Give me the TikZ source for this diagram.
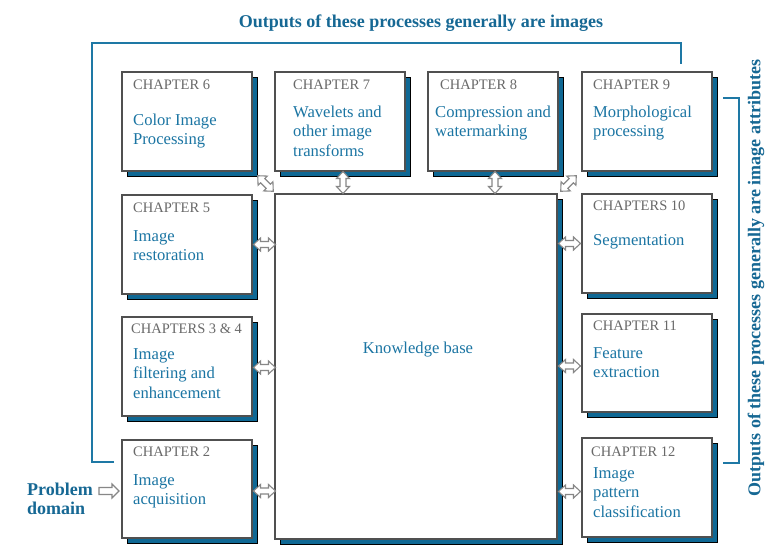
\documentclass[tikz,border=0pt]{standalone}
\usepackage{fontspec}
\setmainfont{Liberation Serif}
\usetikzlibrary{calc,shadows}
\definecolor{tblue}{RGB}{27,117,163}
\definecolor{titleblue}{RGB}{22,104,148}
\definecolor{lineblue}{RGB}{30,120,165}
\definecolor{shblue}{RGB}{15,104,148}
\definecolor{chapgray}{RGB}{105,105,105}
\definecolor{boxgray}{RGB}{80,80,80}
\definecolor{arrgray}{RGB}{135,135,135}
\newcommand\vlines[1]{\vtop{\halign{##\hfil\cr#1\crcr}}}
\tikzset{
  box/.style={draw=boxgray, line width=1.3pt, fill=white, anchor=north west,
    minimum width=130pt, minimum height=99pt, inner sep=0pt, outer sep=0pt,
    general shadow={fill=shblue, draw=black, line width=0.6pt, shadow xshift=5pt, shadow yshift=-5pt}},
  chap/.style={anchor=base west, inner sep=0pt, text=chapgray, font=\fontsize{14.5}{14.5}\selectfont},
  body/.style={anchor=base west, inner sep=0pt, text=tblue, font=\fontsize{16.6}{19.5}\selectfont},
  title/.style={inner sep=0pt, text=titleblue, font=\fontsize{18}{19}\selectfont\bfseries},
  bracket/.style={draw=lineblue, line width=2pt},
  arrowline/.style={draw=arrgray, fill=white, line width=1.1pt, line join=miter},
  darr/.pic={\draw[arrowline] (-11,0) -- (-4,-6.5) -- (-4,-3) -- (4,-3) -- (4,-6.5) -- (11,0)
      -- (4,6.5) -- (4,3) -- (-4,3) -- (-4,6.5) -- cycle;},
  sarr/.pic={\draw[arrowline] (-10,-3.5) -- (3,-3.5) -- (3,-7) -- (10,0) -- (3,7) -- (3,3.5) -- (-10,3.5) -- cycle;}
}
\begin{document}
\begin{tikzpicture}[x=1pt,y=-1pt]
\useasboundingbox (0,0) rectangle (778,549);
\fill[white] (0,0) rectangle (778,549);

% brackets
\coordinate (bl1) at (114,462);
\coordinate (bl2) at (92,462);
\coordinate (bl3) at (92,43);
\coordinate (bl4) at (681,43);
\coordinate (bl5) at (681,64);
\draw[bracket] (bl1) -- (bl2) -- (bl3) -- (bl4) -- (bl5);
\coordinate (br1) at (723,98);
\coordinate (br2) at (739,98);
\coordinate (br3) at (739,463);
\coordinate (br4) at (723,463);
\draw[bracket] (br1) -- (br2) -- (br3) -- (br4);

% titles
\node[title] (t1) at (421,23) {Outputs of these processes generally are images};
\node[title, rotate=90] (t2) at (756,278) {Outputs of these processes generally are image attributes};

% boxes
\node[box] (c6) at (122,72) {};
\node[box] (c7) at (275,72) {};
\node[box] (c8) at (428,72) {};
\node[box] (c9) at (582,72) {};
\node[box] (c5) at (122,195) {};
\node[box] (c34) at (122,317) {};
\node[box, minimum height=98pt] (c2) at (122,440) {};
\node[box] (c10) at (582,194) {};
\node[box, minimum height=98pt] (c11) at (582,314) {};
\node[box] (c12) at (582,438) {};
\node[box, minimum width=282pt, minimum height=345pt] (kb) at (275,194) {};

% texts
\node[chap] (c6h) at (133,89) {CHAPTER 6};
\node[body] (c6b) at (133,125) {\vlines{Color Image\cr Processing}};
\node[chap] (c7h) at (293,89) {CHAPTER 7};
\node[body] (c7b) at (293,117) {\vlines{Wavelets and\cr other image\cr transforms}};
\node[chap] (c8h) at (440,89) {CHAPTER 8};
\node[body] (c8b) at (435,117) {\vlines{Compression and\cr watermarking}};
\node[chap] (c9h) at (593,89) {CHAPTER 9};
\node[body] (c9b) at (593,117) {\vlines{Morphological\cr processing}};
\node[chap] (c5h) at (133,212) {CHAPTER 5};
\node[body] (c5b) at (133,241) {\vlines{Image\cr restoration}};
\node[chap] (c34h) at (131,333) {CHAPTERS 3 \& 4};
\node[body] (c34b) at (133,359) {\vlines{Image\cr filtering and\cr enhancement}};
\node[chap] (c2h) at (133,456) {CHAPTER 2};
\node[body] (c2b) at (133,485) {\vlines{Image\cr acquisition}};
\node[chap] (c10h) at (593,210) {CHAPTERS 10};
\node[body] (c10b) at (593,245) {Segmentation};
\node[chap] (c11h) at (593,330) {CHAPTER 11};
\node[body] (c11b) at (593,358) {\vlines{Feature\cr extraction}};
\node[chap] (c12h) at (591,456) {CHAPTER 12};
\node[body] (c12b) at (593,478) {\vlines{Image\cr pattern\cr classification}};
\node[body, anchor=center] (kbt) at (418,350) {Knowledge base};

% problem domain
\node[title, anchor=base west, font=\fontsize{18}{19.5}\selectfont\bfseries] (pd) at (27,495) {\vlines{Problem\cr domain}};
\pic at ($(c2.west)+(-13,2)$) {sarr};

% double arrows
\pic at ($(c5.east)!0.5!(c5.east -| kb.west)+(1,0)$) {darr};
\pic at ($(c34.east)!0.5!(c34.east -| kb.west)+(1,1)$) {darr};
\pic at ($(c2.east)!0.5!(c2.east -| kb.west)+(1,2)$) {darr};
\pic at ($(c10.west)!0.5!(c10.west -| kb.east)+(0,0)$) {darr};
\pic at ($(c11.west)!0.5!(c11.west -| kb.east)+(0,3)$) {darr};
\pic at ($(c12.west)!0.5!(c12.west -| kb.east)+(0,4)$) {darr};
\pic[rotate=90] at ($(c7.south)!0.5!(c7.south |- kb.north)+(3,0)$) {darr};
\pic[rotate=90] at ($(c8.south)!0.5!(c8.south |- kb.north)+(2,0)$) {darr};
\pic[rotate=-45] at ($(c6.south east)!0.5!(kb.north west)+(2,1)$) {darr};
\pic[rotate=45] at ($(c9.south west)!0.5!(kb.north east)+(-1,1)$) {darr};
\end{tikzpicture}
\end{document}
